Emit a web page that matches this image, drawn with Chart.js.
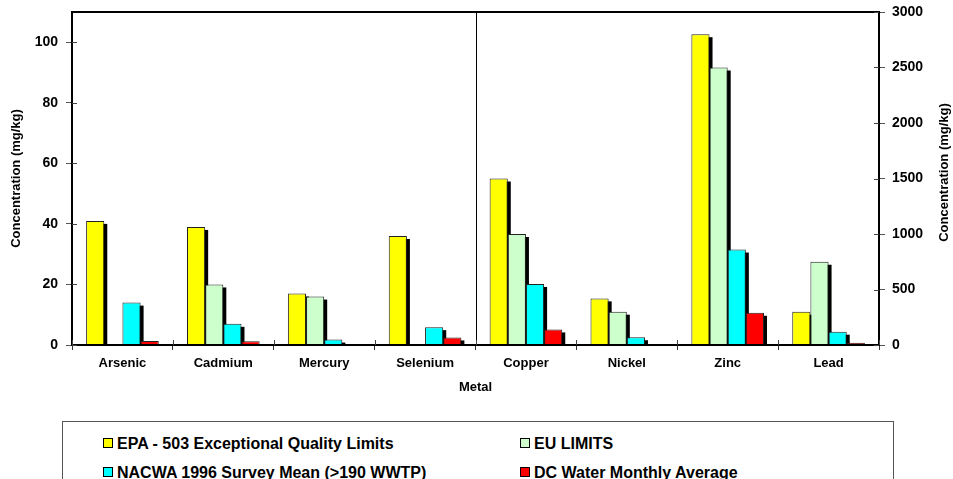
<!DOCTYPE html>
<html>
<head>
<meta charset="utf-8">
<script src="https://cdn.jsdelivr.net/npm/chart.js@4.4.1/dist/chart.umd.min.js"></script>
<style>
  body { margin: 0; background: #fff; }
  #wrap { position: relative; width: 953px; height: 479px; overflow: hidden; font-family: 'Liberation Sans', Arial, sans-serif; }
  #box { position: absolute; left: 0; top: 0; width: 953px; height: 400px; }
  #legend { position: absolute; left: 62px; top: 421px; width: 832px; height: 80px; border: 1px solid #555; box-sizing: border-box; }
  .item { position: absolute; font-weight: bold; font-size: 16px; line-height: 18px; white-space: nowrap; }
  .sw { display: inline-block; width: 8px; height: 8px; border: 1px solid #000; margin-right: 4px; vertical-align: 1px; }
</style>
</head>
<body>
<div id="wrap">
  <div id="box"><canvas id="barChart"></canvas></div>
  <div id="legend"></div>
</div>
<script>
const categories = ['Arsenic', 'Cadmium', 'Mercury', 'Selenium', 'Copper', 'Nickel', 'Zinc', 'Lead'];
// first 4 metals read on the left axis, the rest on the right axis
const leftCount = 4;

const epaLimits   = [41, 39, 17, 36, 1500, 420, 2800, 300];
const euLimits    = [null, 20, 16, null, 1000, 300, 2500, 750];
const nacwaMean   = [14, 7, 1.8, 5.9, 550, 70, 860, 120];
const dcWaterAvg  = [1.3, 1.2, 0.3, 2.5, 140, 10, 290, 20];

const leftTicks = { min: 0, max: 110, step: 20 };
const rightTicks = { min: 0, max: 3000, step: 500 };
const axisTitle = 'Concentration (mg/kg)';

const series = [
  { label: 'EPA - 503 Exceptional Quality Limits', data: epaLimits, color: '#ffff00', key: 'epa' },
  { label: 'EU LIMITS', data: euLimits, color: '#ccffcc', key: 'eu' },
  { label: 'NACWA 1996 Survey Mean (>190 WWTP)', data: nacwaMean, color: '#00ffff', key: 'nacwa' },
  { label: 'DC Water Monthly Average', data: dcWaterAvg, color: '#ff0000', key: 'dc' }
];

const datasets = [];
series.forEach(s => {
  datasets.push({
    label: s.label,
    data: s.data.map((v, i) => i < leftCount ? v : null),
    yAxisID: 'y',
    stack: s.key,
    backgroundColor: s.color,
    borderColor: '#222',
    borderWidth: 1,
    borderSkipped: 'bottom',
    barPercentage: 1,
    categoryPercentage: 0.72
  });
  datasets.push({
    label: s.label,
    data: s.data.map((v, i) => i >= leftCount ? v : null),
    yAxisID: 'y1',
    stack: s.key,
    backgroundColor: s.color,
    borderColor: '#222',
    borderWidth: 1,
    borderSkipped: 'bottom',
    barPercentage: 1,
    categoryPercentage: 0.72
  });
});

// black drop shadow behind each bar
const shadowPlugin = {
  id: 'shadow',
  beforeDatasetsDraw(chart) {
    const {ctx, chartArea} = chart;
    ctx.save();
    ctx.beginPath();
    ctx.rect(chartArea.left, chartArea.top, chartArea.right - chartArea.left, chartArea.bottom - chartArea.top);
    ctx.clip();
    ctx.fillStyle = '#000';
    chart.data.datasets.forEach((ds, di) => {
      const meta = chart.getDatasetMeta(di);
      meta.data.forEach((bar, i) => {
        if (ds.data[i] === null) return;
        const p = bar.getProps(['x', 'y', 'base', 'width'], true);
        if (isNaN(p.y)) return;
        ctx.fillRect(p.x - p.width / 2 + 3, p.y + 3, p.width, p.base - p.y);
      });
    });
    ctx.restore();
  }
};

// frame around plot, divider between the two axis groups, right axis title
const framePlugin = {
  id: 'frame',
  afterDraw(chart) {
    const {ctx, chartArea, scales} = chart;
    ctx.save();
    const xs = scales.x;
    const mid = (xs.getPixelForValue(leftCount - 1) + xs.getPixelForValue(leftCount)) / 2;
    ctx.strokeStyle = '#000';
    ctx.lineWidth = 1;
    ctx.beginPath();
    ctx.moveTo(Math.round(mid) + 0.5, chartArea.top);
    ctx.lineTo(Math.round(mid) + 0.5, chartArea.bottom);
    ctx.stroke();
    ctx.lineWidth = 2;
    ctx.strokeRect(chartArea.left, chartArea.top, chartArea.right - chartArea.left, chartArea.bottom - chartArea.top);

    // small inward tick marks so they cross the axis lines
    ctx.lineWidth = 1;
    ctx.strokeStyle = '#444';
    ctx.beginPath();
    scales.y.ticks.forEach(t => {
      const py = Math.round(scales.y.getPixelForValue(t.value)) + 0.5;
      ctx.moveTo(chartArea.left, py); ctx.lineTo(chartArea.left + 5, py);
    });
    scales.y1.ticks.forEach(t => {
      const py = Math.round(scales.y1.getPixelForValue(t.value)) + 0.5;
      ctx.moveTo(chartArea.right - 5, py); ctx.lineTo(chartArea.right, py);
    });
    for (let i = 0; i <= categories.length; i++) {
      const px = Math.round(xs.getPixelForValue(i - 0.5)) + 0.5;
      ctx.moveTo(px, chartArea.bottom - 5); ctx.lineTo(px, chartArea.bottom);
    }
    ctx.stroke();

    ctx.fillStyle = '#000';
    ctx.font = "bold 13px 'Liberation Sans', Arial, sans-serif";
    ctx.textAlign = 'center';
    ctx.textBaseline = 'middle';
    ctx.translate(944, (chartArea.top + chartArea.bottom) / 2 - 6);
    ctx.rotate(-Math.PI / 2);
    ctx.fillText(axisTitle, 0, 0);
    ctx.restore();
  }
};

Chart.defaults.font.family = "'Liberation Sans', Arial, sans-serif";
Chart.defaults.color = '#000';

new Chart(document.getElementById('barChart'), {
  type: 'bar',
  data: { labels: categories, datasets: datasets },
  options: {
    responsive: true,
    maintainAspectRatio: false,
    animation: false,
    layout: { padding: { top: 12, left: 0, right: 0, bottom: 0 } },
    plugins: {
      legend: { display: false },
      tooltip: { enabled: false }
    },
    scales: {
      x: {
        afterFit(scale) { scale.height = 55; },
        grid: { drawOnChartArea: false, tickLength: 5, color: '#333' },
        border: { display: false },
        ticks: { padding: 6, font: { size: 13, weight: 'bold' }, color: '#000', maxRotation: 0 },
        title: { display: true, text: 'Metal', font: { size: 13, weight: 'bold' }, padding: { top: 0, bottom: 5 } }
      },
      y: {
        position: 'left',
        min: leftTicks.min,
        max: leftTicks.max,
        afterFit(scale) { scale.width = 72; scale.paddingTop = 0; scale.paddingBottom = 0; },
        grid: { drawOnChartArea: false, tickLength: 6, color: '#555' },
        border: { display: false },
        ticks: { stepSize: leftTicks.step, includeBounds: false, padding: 8, font: { size: 14, weight: 'bold' }, color: '#000' },
        title: { display: true, text: axisTitle, font: { size: 13, weight: 'bold' }, padding: { top: 9, bottom: 0 } }
      },
      y1: {
        position: 'right',
        min: rightTicks.min,
        max: rightTicks.max,
        afterFit(scale) { scale.width = 74; scale.paddingTop = 0; scale.paddingBottom = 0; },
        grid: { drawOnChartArea: false, tickLength: 6, color: '#555' },
        border: { display: false },
        ticks: {
          stepSize: rightTicks.step, includeBounds: false, padding: 7,
          font: { size: 14, weight: 'bold' }, color: '#000',
          callback: v => String(v)
        },
        title: { display: false }
      }
    }
  },
  plugins: [shadowPlugin, framePlugin]
});

// two-column legend box under the chart
const legendPos = [
  { left: 40, top: 13 }, { left: 457, top: 13 },
  { left: 40, top: 42 }, { left: 457, top: 42 }
];
const legendEl = document.getElementById('legend');
series.forEach((s, i) => {
  const item = document.createElement('div');
  item.className = 'item';
  item.style.left = legendPos[i].left + 'px';
  item.style.top = legendPos[i].top + 'px';
  item.innerHTML = '<span class="sw" style="background:' + s.color + '"></span>';
  item.appendChild(document.createTextNode(s.label));
  legendEl.appendChild(item);
});
</script>
</body>
</html>
